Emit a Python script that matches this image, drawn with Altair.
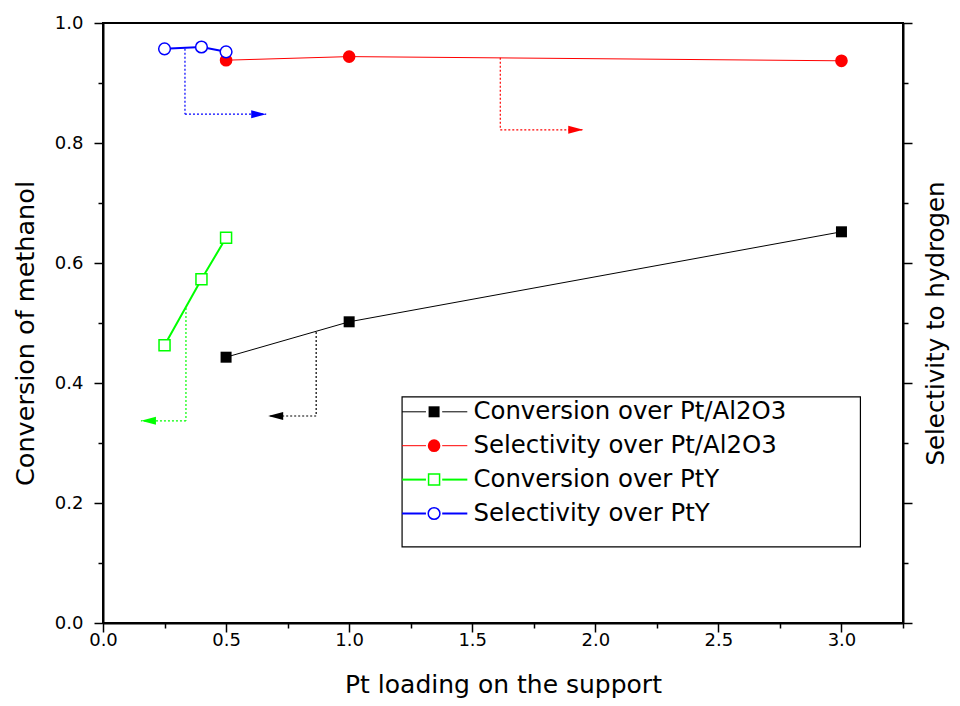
import altair as alt
import pandas as pd

# ---------------- data ----------------
loading_al2o3 = [0.5, 1.0, 3.0]
conversion_al2o3 = [0.443, 0.502, 0.652]
selectivity_al2o3 = [0.938, 0.944, 0.937]

loading_pty = [0.25, 0.4, 0.5]
conversion_pty = [0.463, 0.573, 0.642]
selectivity_pty = [0.957, 0.960, 0.952]

series_names = ["Conversion over Pt/Al2O3", "Selectivity over Pt/Al2O3",
                "Conversion over PtY", "Selectivity over PtY"]
series_colors = ["#000000", "#ff0000", "#00ff00", "#0000ff"]
series_shapes = ["square", "circle", "square", "circle"]
series_filled = [True, True, False, False]
series_linewidth = [1, 1, 2, 2]
series_size = [121, 160, 121, 137]

x_major = [0.0, 0.5, 1.0, 1.5, 2.0, 2.5, 3.0]
x_minor = [0.25, 0.75, 1.25, 1.75, 2.25, 2.75, 3.25]
y_major = [0.0, 0.2, 0.4, 0.6, 0.8, 1.0]
y_minor = [0.1, 0.3, 0.5, 0.7, 0.9]

# arrow annotations (data units): vertical leg x, start y, corner y, tip x
arrow_x = [0.866, 1.614, 0.337, 0.333]
arrow_y_start = [0.485, 0.942, 0.525, 0.957]
arrow_y_corner = [0.345, 0.822, 0.337, 0.848]
arrow_tip_x = [0.671, 1.951, 0.154, 0.663]

# legend box (data units)
legend_x0, legend_x1 = 1.215, 3.077
legend_y0, legend_y1 = 0.127, 0.377
legend_row0, legend_step = 0.352, 0.0565
legend_gap_left, legend_gap_right = 1.312, 1.378
legend_line_end = 1.48
legend_marker_x = 1.345
legend_text_x = 1.505

FONT = "DejaVu Sans"
W, H = 800, 600

XS = alt.Scale(domain=[0, 3.25], nice=False, zero=False)
YS = alt.Scale(domain=[0, 1], nice=False, zero=False)

axis_x_major = alt.Axis(values=x_major, format=".1f", orient="bottom",
                        title="Pt loading on the support", tickSize=9,
                        labelFontSize=18, labelPadding=-1, labelFlush=False, labelOverlap=False,
                        titleFontSize=25, titleX=W / 2, titleY=69, titleBaseline="alphabetic",
                        titleAlign="center")
axis_x_minor = alt.Axis(values=x_minor, orient="bottom", labels=False, domain=False,
                        tickSize=5, title=None)
axis_left_major = alt.Axis(values=y_major, format=".1f", orient="left",
                           title="Conversion of methanol", tickSize=9,
                           labelFontSize=18, labelPadding=11, labelFlush=False, labelOverlap=False,
                           titleFontSize=25.5, titleX=-78, titleY=H / 2 + 10, titleAngle=270,
                           titleBaseline="middle", titleAlign="center")
axis_left_minor = alt.Axis(values=y_minor, orient="left", labels=False, domain=False,
                           tickSize=5, title=None)
axis_right_major = alt.Axis(values=y_major, orient="right", labels=False, tickSize=9,
                            title="Selectivity to hydrogen",
                            titleFontSize=24.5, titleX=33, titleY=H / 2, titleAngle=270,
                            titleBaseline="middle", titleAlign="center")
axis_right_minor = alt.Axis(values=y_minor, orient="right", labels=False, domain=False,
                            tickSize=5, title=None)

xs = [loading_al2o3, loading_al2o3, loading_pty, loading_pty]
ys = [conversion_al2o3, selectivity_al2o3, conversion_pty, selectivity_pty]
all_pts = pd.DataFrame({"x": sum(xs, []), "y": sum(ys, [])})


def axis_holder(xa, ya):
    return alt.Chart(all_pts).mark_point(opacity=0).encode(
        x=alt.X("x:Q", scale=XS, axis=xa), y=alt.Y("y:Q", scale=YS, axis=ya))


axis_layers = [axis_holder(axis_x_major, axis_left_major),
               axis_holder(axis_x_minor, axis_left_minor),
               axis_holder(None, axis_right_major),
               axis_holder(None, axis_right_minor)]

# arrows
arr = pd.DataFrame({"x": arrow_x, "y0": arrow_y_start, "y1": arrow_y_corner,
                    "tip": arrow_tip_x, "color": series_colors})
arr["dir"] = ["left" if t < x else "right" for t, x in zip(arrow_tip_x, arrow_x)]
vert = alt.Chart(arr).mark_rule(strokeWidth=1.2, strokeDash=[2, 2]).encode(
    x=alt.X("x:Q", scale=XS, axis=None), y=alt.Y("y0:Q", scale=YS, axis=None), y2="y1:Q",
    color=alt.Color("color:N", scale=None))
horiz = alt.Chart(arr).mark_rule(strokeWidth=1.2, strokeDash=[2, 2]).encode(
    x=alt.X("x:Q", scale=XS, axis=None), x2="tip:Q", y=alt.Y("y1:Q", scale=YS, axis=None),
    color=alt.Color("color:N", scale=None))
head_left = alt.Chart(arr[arr["dir"] == "left"]).mark_point(
    shape="M0,0 L2,-0.53 L2,0.53 Z", filled=True, size=225, opacity=1, strokeWidth=0).encode(
    x=alt.X("tip:Q", scale=XS, axis=None), y=alt.Y("y1:Q", scale=YS, axis=None),
    color=alt.Color("color:N", scale=None))
head_right = alt.Chart(arr[arr["dir"] == "right"]).mark_point(
    shape="M0,0 L-2,-0.53 L-2,0.53 Z", filled=True, size=225, opacity=1, strokeWidth=0).encode(
    x=alt.X("tip:Q", scale=XS, axis=None), y=alt.Y("y1:Q", scale=YS, axis=None),
    color=alt.Color("color:N", scale=None))

line_layers = []
point_layers = []
for i in range(4):
    df = pd.DataFrame({"x": xs[i], "y": ys[i]})
    line_layers.append(alt.Chart(df).mark_line(color=series_colors[i],
                                               strokeWidth=series_linewidth[i]).encode(
        x=alt.X("x:Q", scale=XS, axis=None), y=alt.Y("y:Q", scale=YS, axis=None)))
    point_layers.append(alt.Chart(df).mark_point(
        shape=series_shapes[i], size=series_size[i], opacity=1,
        fill=series_colors[i] if series_filled[i] else "white", filled=True,
        stroke=series_colors[i], strokeWidth=0 if series_filled[i] else 1.5).encode(
        x=alt.X("x:Q", scale=XS, axis=None), y=alt.Y("y:Q", scale=YS, axis=None)))

# legend built from marks
leg = pd.DataFrame({"name": series_names, "color": series_colors,
                    "y": [legend_row0 - k * legend_step for k in range(4)],
                    "x0": [legend_x0] * 4, "g0": [legend_gap_left] * 4,
                    "g1": [legend_gap_right] * 4, "x1": [legend_line_end] * 4,
                    "xm": [legend_marker_x] * 4, "xt": [legend_text_x] * 4})
box = alt.Chart(pd.DataFrame({"x0": [legend_x0], "x1": [legend_x1],
                              "y0": [legend_y0], "y1": [legend_y1]})).mark_rect(
    fill="white", stroke="black", strokeWidth=1.2).encode(
    x=alt.X("x0:Q", scale=XS, axis=None), x2="x1:Q",
    y=alt.Y("y0:Q", scale=YS, axis=None), y2="y1:Q")
leg_layers = [box]
for i in range(4):
    sub = leg.iloc[[i]]
    leg_layers.append(alt.Chart(sub).mark_rule(color=series_colors[i],
                                               strokeWidth=series_linewidth[i]).encode(
        x=alt.X("x0:Q", scale=XS, axis=None), x2="g0:Q", y=alt.Y("y:Q", scale=YS, axis=None)))
    leg_layers.append(alt.Chart(sub).mark_rule(color=series_colors[i],
                                               strokeWidth=series_linewidth[i]).encode(
        x=alt.X("g1:Q", scale=XS, axis=None), x2="x1:Q", y=alt.Y("y:Q", scale=YS, axis=None)))
    leg_layers.append(alt.Chart(sub).mark_point(
        shape=series_shapes[i], size=series_size[i], opacity=1,
        fill=series_colors[i] if series_filled[i] else "white", filled=True,
        stroke=series_colors[i], strokeWidth=0 if series_filled[i] else 1.5).encode(
        x=alt.X("xm:Q", scale=XS, axis=None), y=alt.Y("y:Q", scale=YS, axis=None)))
leg_layers.append(alt.Chart(leg).mark_text(align="left", baseline="middle", font=FONT,
                                           fontSize=24.4, color="black").encode(
    x=alt.X("xt:Q", scale=XS, axis=None), y=alt.Y("y:Q", scale=YS, axis=None), text="name:N"))

chart = alt.layer(*axis_layers, *line_layers, vert, horiz, head_left, head_right,
                  *point_layers, *leg_layers).resolve_axis(
    x="independent", y="independent").properties(
    width=W, height=H,
    autosize=alt.AutoSizeParams(type="none"),
    padding={"left": 95, "top": 15, "right": 49, "bottom": 75},
    background="white",
).configure_view(stroke="black", strokeWidth=2).configure_axis(
    domainColor="black", domainWidth=2, tickColor="black", tickWidth=1.5,
    labelColor="black", titleColor="black", labelFont=FONT, titleFont=FONT,
    titleFontWeight="normal", grid=False)

chart.save("out.html", embed_options={"renderer": "svg", "actions": False})
